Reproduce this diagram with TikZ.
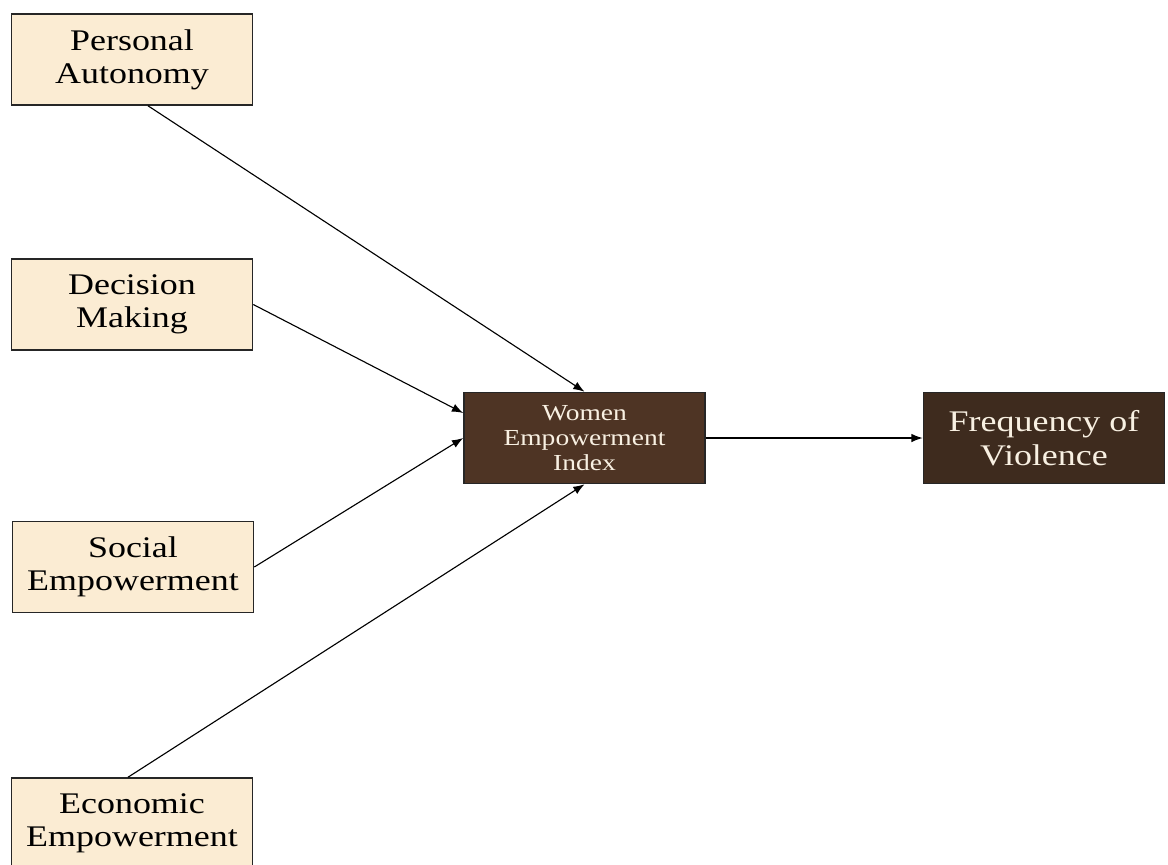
\documentclass[tikz,border=0pt]{standalone}
\usepackage{fontspec}
\newfontfamily\boxfont[FakeStretch=1.2]{Liberation Serif}
\usetikzlibrary{arrows.meta}
\definecolor{parchment}{RGB}{251,236,211}
\definecolor{darkwood}{RGB}{78,52,36}
\definecolor{walnut}{RGB}{62,43,30}
\definecolor{ivory}{RGB}{248,240,226}

\begin{document}
\begin{tikzpicture}[x=0.025cm,y=-0.025cm,>={Latex[length=8pt,width=6pt]},
    every node/.style={font=\boxfont\fontsize{21.3}{23.5}\selectfont, align=center, inner sep=0pt},
    factor/.style={draw=black!85, line width=1.1pt, fill=parchment, minimum width=6.025cm, minimum height=2.275cm},
    index/.style={factor, fill=darkwood, text=ivory, font=\boxfont\fontsize{16.3}{17.8}\selectfont},
    outcome/.style={factor, fill=walnut, text=ivory, font=\boxfont\fontsize{21.3}{24.2}\selectfont}]
    \useasboundingbox (0,0) rectangle (1168,864);
    % factors
        \node[factor] (pa) at (132,59.5) {Personal\\Autonomy};
        \node[factor] (dm) at (132,304.5) {Decision\\Making};
        \node[factor] (se) at (133,567) {Social\\Empowerment};
        \node[factor] (ee) at (132,823.5) {Economic\\Empowerment};
    % index and outcome
        \node[index] (wei) at (584.5,438) {Women\\Empowerment\\Index};
        \node[outcome] (fv) at (1044,438) {Frequency of\\Violence};
    % arrows
        \draw[->, line width=0.8pt] ([xshift=0.4cm]pa.south) -- (wei.north);
        \draw[->, line width=0.8pt] (dm.east) -- ([yshift=0.625cm]wei.west);
        \draw[->, line width=0.8pt] (se.east) -- (wei.west);
        \draw[->, line width=0.8pt] ([xshift=-0.1cm]ee.north) -- (wei.south);
        \draw[->, line width=0.8pt] (wei.east) -- (fv.west);
\end{tikzpicture}
\end{document}
